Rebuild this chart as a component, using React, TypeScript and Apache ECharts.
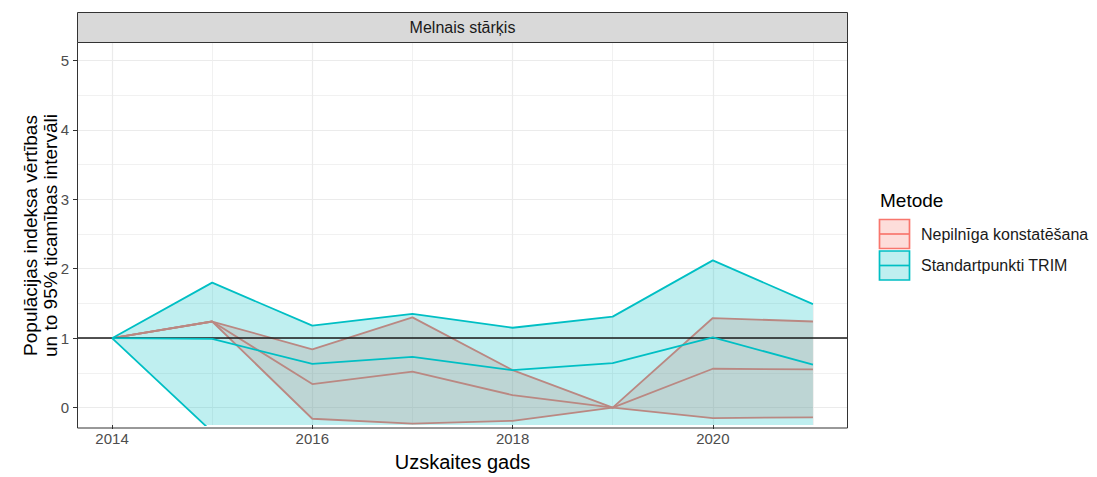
import React, { useEffect, useRef } from "react";
import * as echarts from "echarts";

// ---- data ----
const years = [2014, 2015, 2016, 2017, 2018, 2019, 2020, 2021];

const nepLower = [1, 1.24, -0.16, -0.23, -0.19, 0, -0.15, -0.14];
const nepMean = [1, 1.24, 0.34, 0.52, 0.18, 0, 0.56, 0.55];
const nepUpper = [1, 1.24, 0.84, 1.3, 0.54, 0, 1.29, 1.24];

const trimLower = [1, -0.35, -0.6, -0.55, -0.55, -0.5, -0.45, -0.45];
const trimMean = [1, 0.99, 0.63, 0.73, 0.54, 0.64, 1.01, 0.62];
const trimUpper = [1, 1.8, 1.18, 1.35, 1.15, 1.31, 2.12, 1.49];

const xMajorTicks = [2014, 2016, 2018, 2020];
const xMinorTicks = [2015, 2017, 2019, 2021];
const yMajorTicks = [0, 1, 2, 3, 4, 5];
const yMinorTicks = [0.5, 1.5, 2.5, 3.5, 4.5];

const methods = ["Nepilnīga konstatēšana", "Standartpunkti TRIM"];
const legendTitle = "Metode";
const stripLabel = "Melnais stārķis";
const xTitle = "Uzskaites gads";
const yTitle = "Populācijas indeksa vērtības\nun to 95% ticamības intervāli";
const refLine = 1;

// ---- styles ----
const RED = "#F8766D";
const CYAN = "#00BFC4";
const RED_FILL = "rgba(248,118,109,0.25)";
const CYAN_FILL = "rgba(0,191,196,0.25)";
const FONT = '"Liberation Sans", Arial, sans-serif';

const W = 1097;
const H = 477;
const PL = 77;
const PR = 848;
const PT = 43;
const PB = 428;

const pairs = (vals: number[]) => years.map((y, i) => [y, vals[i]]);

function lineSeries(name: string, vals: number[], color: string, z: number, extra: any = {}) {
  return {
    name,
    type: "line",
    z,
    data: pairs(vals),
    showSymbol: false,
    symbol: "none",
    silent: true,
    clip: true,
    lineStyle: { color, width: 1.8 },
    itemStyle: { color },
    ...extra,
  };
}

function bandSeries(name: string, lower: number[], upper: number[], fill: string, z: number) {
  return {
    name,
    type: "custom",
    z,
    silent: true,
    clip: true,
    data: years.map((y, i) => [y, lower[i], upper[i]]),
    encode: { x: 0, y: [1, 2] },
    renderItem: (params: any, api: any) => {
      if (params.dataIndex !== 0) return { type: "group", children: [] };
      const top = years.map((y, i) => api.coord([y, upper[i]]));
      const bot = years.map((y, i) => api.coord([y, lower[i]])).reverse();
      return {
        type: "polygon",
        shape: { points: top.concat(bot) },
        style: { fill, stroke: "none" },
      };
    },
  };
}

const textStyle = (extra: any) => ({
  fill: "#1A1A1A",
  fontFamily: FONT,
  ...extra,
});

export default function App() {
  const ref = useRef<HTMLDivElement>(null);

  useEffect(() => {
    if (!ref.current) return;
    const chart = echarts.init(ref.current, null, { renderer: "svg", width: W, height: H });

    const xAxisBase = {
      type: "value",
      min: 2013.65,
      max: 2021.35,
      axisLine: { show: false, onZero: false },
    };
    const yAxisBase = {
      type: "value",
      min: -0.25,
      max: 5.25,
      axisLine: { show: false, onZero: false },
    };

    const legendItems: any[] = [];
    const keyTops = [219.5, 251];
    methods.forEach((m, i) => {
      const col = i === 0 ? RED : CYAN;
      const fill = i === 0 ? RED_FILL : CYAN_FILL;
      const top = keyTops[i];
      legendItems.push(
        {
          type: "rect",
          shape: { x: 879.5, y: top, width: 30, height: 29 },
          style: { fill, stroke: col, lineWidth: 1.7 },
        },
        {
          type: "line",
          shape: { x1: 879.5, y1: top + 14.5, x2: 909.5, y2: top + 14.5 },
          style: { stroke: col, lineWidth: 1.7 },
        },
        {
          type: "text",
          x: 921,
          y: top + 14.5,
          style: textStyle({
            text: m,
            fontSize: 16,
            align: "left",
            verticalAlign: "middle",
            textAlign: "left",
            textVerticalAlign: "middle",
          }),
        }
      );
    });

    const option: any = {
      animation: false,
      textStyle: { fontFamily: FONT },
      grid: { left: PL, top: PT, width: PR - PL, height: PB - PT, containLabel: false },
      xAxis: [
        {
          ...xAxisBase,
          name: xTitle,
          nameLocation: "middle",
          nameGap: 27,
          nameTextStyle: { fontSize: 20, color: "#000", fontFamily: FONT },
          axisTick: { show: true, length: 4, customValues: xMajorTicks, lineStyle: { color: "#333333", width: 1 } },
          axisLabel: {
            customValues: xMajorTicks,
            color: "#4D4D4D",
            fontSize: 15,
            margin: 6,
            fontFamily: FONT,
            formatter: (v: number) => String(v),
          },
          splitLine: { show: true, lineStyle: { color: "#EBEBEB", width: 1.2 } },
        },
        {
          ...xAxisBase,
          position: "bottom",
          axisTick: { show: false, customValues: xMinorTicks },
          axisLabel: { show: false, customValues: xMinorTicks },
          splitLine: { show: true, lineStyle: { color: "#EEEEEE", width: 0.8 } },
        },
      ],
      yAxis: [
        {
          ...yAxisBase,
          axisTick: { show: true, length: 4, customValues: yMajorTicks, lineStyle: { color: "#333333", width: 1 } },
          axisLabel: {
            customValues: yMajorTicks,
            color: "#4D4D4D",
            fontSize: 15,
            margin: 8,
            fontFamily: FONT,
            formatter: (v: number) => String(v),
          },
          splitLine: { show: true, lineStyle: { color: "#EBEBEB", width: 1.2 } },
        },
        {
          ...yAxisBase,
          position: "left",
          axisTick: { show: false, customValues: yMinorTicks },
          axisLabel: { show: false, customValues: yMinorTicks },
          splitLine: { show: true, lineStyle: { color: "#EEEEEE", width: 0.8 } },
        },
      ],
      series: [
        bandSeries(methods[0] + " band", nepLower, nepUpper, RED_FILL, 2),
        lineSeries(methods[0] + " lower", nepLower, RED, 3),
        lineSeries(methods[0] + " upper", nepUpper, RED, 3),
        lineSeries(methods[0], nepMean, RED, 3),
        bandSeries(methods[1] + " band", trimLower, trimUpper, CYAN_FILL, 4),
        lineSeries(methods[1] + " lower", trimLower, CYAN, 5),
        lineSeries(methods[1] + " upper", trimUpper, CYAN, 5),
        lineSeries(methods[1], trimMean, CYAN, 5, {
          markLine: {
            silent: true,
            symbol: ["none", "none"],
            label: { show: false },
            lineStyle: { color: "#1A1A1A", width: 1.5, type: "solid" },
            data: [{ yAxis: refLine }],
          },
        }),
      ],
      graphic: [
        {
          type: "rect",
          z: 100,
          silent: true,
          shape: { x: PL + 0.5, y: PT - 0.5, width: PR - PL - 1, height: PB - PT + 0.5 },
          style: { fill: "none", stroke: "#333333", lineWidth: 1 },
        },
        {
          type: "rect",
          z: 100,
          shape: { x: PL + 0.5, y: 12.5, width: PR - PL - 1, height: 30 },
          style: { fill: "#D9D9D9", stroke: "#333333", lineWidth: 1 },
        },
        {
          type: "text",
          z: 101,
          x: (PL + PR) / 2,
          y: 27.5,
          style: textStyle({
            text: stripLabel,
            fontSize: 16,
            align: "center",
            verticalAlign: "middle",
            textAlign: "center",
            textVerticalAlign: "middle",
          }),
        },
        {
          type: "text",
          x: 40,
          y: (PT + PB) / 2,
          rotation: Math.PI / 2,
          style: textStyle({
            text: yTitle,
            fill: "#000",
            fontSize: 19,
            lineHeight: 20,
            align: "center",
            verticalAlign: "middle",
            textAlign: "center",
            textVerticalAlign: "middle",
          }),
        },
        {
          type: "text",
          x: 880,
          y: 200,
          style: textStyle({
            text: legendTitle,
            fill: "#000",
            fontSize: 19,
            align: "left",
            verticalAlign: "middle",
            textAlign: "left",
            textVerticalAlign: "middle",
          }),
        },
        ...legendItems,
      ],
    };

    chart.setOption(option);
    return () => chart.dispose();
  }, []);

  return (
    <div
      ref={ref}
      style={{ position: "fixed", left: 0, top: 0, width: W, height: H, background: "#fff" }}
    />
  );
}
